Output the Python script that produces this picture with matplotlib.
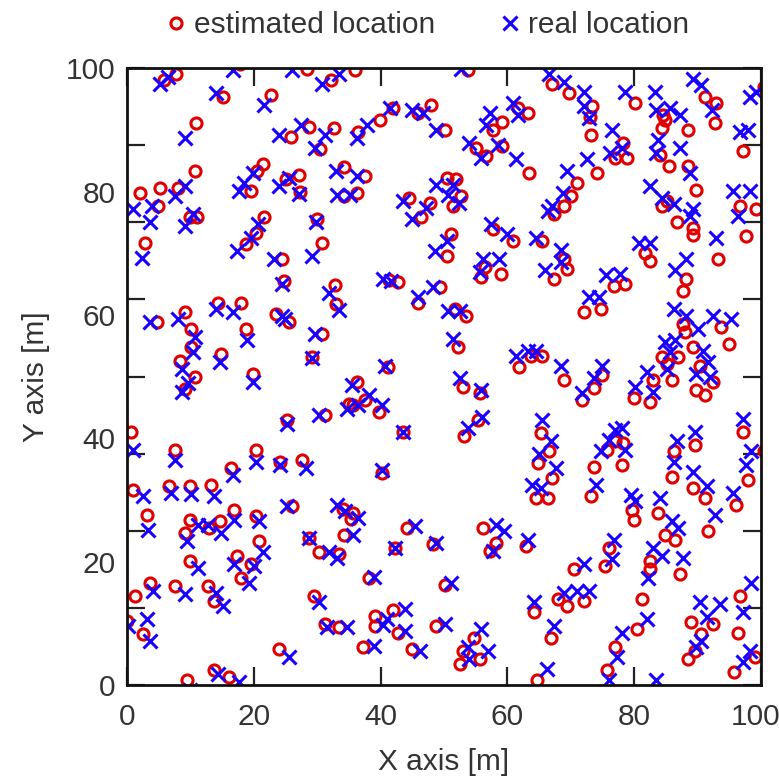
import numpy as np
import matplotlib.pyplot as plt
import matplotlib.transforms as mtransforms
from matplotlib.ticker import FixedLocator, NullFormatter

plt.rcParams['font.family'] = ['Liberation Sans', 'DejaVu Sans']

# estimated positions (red circles)
est_x = [7.8, 5.8, 17.8, 28.4, 32.1, 15.1, 22.7, 10.9, 25.8, 28.7, 32.6, 30.5, 34.2, 21.4, 19.5, 20.5,
         27.1, 25.0, 27.3, 2.0, 5.2, 4.9, 8.0, 10.7, 9.9, 11.0, 2.8, 21.6, 20.3, 18.8, 24.5, 30.0, 30.8,
         36.0, 53.8, 42.0, 39.9, 36.5, 45.9, 48.0, 50.1, 59.2, 57.7, 63.2, 61.6, 55.1, 56.6, 59.2, 63.4,
         37.6, 34.2, 36.3, 50.4, 51.9, 52.7, 51.4, 44.4, 47.8, 46.4, 57.7, 60.8, 65.5, 51.1, 50.4, 56.4,
         59.0, 55.8, 67.3,
         67.1, 69.7, 73.4, 73.0, 73.1, 80.1, 77.0, 78.8, 78.3, 74.1, 71.0, 70.0, 68.9, 67.3, 84.6, 84.3,
         88.5, 84.8, 85.4, 84.0, 88.5, 89.8, 91.1, 92.9, 92.7, 100.5, 101.0, 97.1, 101.0, 96.6, 99.2, 97.6,
         84.3, 86.7, 89.3, 89.3, 85.2, 93.2, 81.7, 82.5, 68.9, 69.4, 76.8, 78.6, 88.2, 87.7,
         72.0, 74.7, 87.7, 88.0, 89.3, 90.3, 93.7, 95.0, 84.3, 86.9, 85.9, 85.2, 89.8, 91.1, 92.4, 68.9,
         74.9, 73.6, 71.8, 79.9, 82.5, 83.0, 75.7, 78.3, 77.0, 73.6, 78.1, 86.2, 89.5, 85.9, 89.3, 97.1,
         97.9, 100.5, 65.3, 66.6, 64.8, 67.1, 64.5, 66.4,
         41.3, 42.8, 45.9, 49.3, 51.7, 53.5, 52.2, 61.9, 63.7, 65.5, 41.2, 53.0, 55.6, 36.3, 35.0, 35.7,
         37.5, 39.7, 43.6, 53.2, 55.3, 40.2,
         24.8, 32.8, 33.0, 4.7, 9.1, 10.1, 10.1, 8.3, 10.7, 9.2, 14.3, 18.0, 18.8, 14.8, 19.8, 23.5, 25.5,
         30.8, 29.2, 31.3, 25.3, 0.7, 7.5, 20.3, 24.2, 27.6, 16.4,
         1.0, 6.7, 9.9, 13.3, 3.1, 9.9, 9.1, 14.6, 13.0, 16.9, 20.3, 20.8, 9.9, 17.4, 19.5, 18.0, 3.6,
         7.5, 12.7, 13.8, 1.3, 0.0, 2.6, 24.0, 9.4, 13.8, 16.1, 26.1, 28.7, 30.3, 29.5, 31.3,
         34.0, 35.7, 35.3, 34.2, 33.5, 44.1, 42.3, 48.3, 38.1, 50.1, 56.1, 58.2, 57.2, 62.9, 64.2, 66.8,
         64.7, 33.4, 39.1, 39.1, 42.0, 42.8, 37.3, 44.9, 48.8, 54.8, 53.0, 55.6, 52.5,
         73.1, 91.1, 96.1, 91.7, 79.6, 79.9, 83.8, 84.8, 86.4, 76.0, 75.4, 70.5, 82.5, 82.5, 87.2, 81.2,
         80.4, 77.0, 75.7, 74.5, 82.5, 67.9, 69.4, 72.0, 89.0, 92.4, 90.6, 89.5, 88.5, 96.6, 96.3, 95.8,
         99.0]
est_y = [99.0, 98.0, 100.6, 99.9, 98.1, 95.4, 95.6, 91.1, 88.9, 90.5, 90.3, 86.9, 83.9, 84.4, 80.1, 83.3,
         82.7, 82.0, 79.9, 79.8, 80.6, 77.6, 80.6, 83.3, 75.8, 75.9, 71.7, 75.8, 73.3, 71.5, 69.0, 75.5, 71.7,
         99.7, 99.7, 93.5, 91.6, 89.7, 92.7, 94.0, 90.0, 91.3, 90.0, 92.7, 93.6, 87.0, 85.7, 87.3, 83.0,
         82.5, 79.2, 79.8, 82.2, 82.0, 79.2, 77.6, 79.0, 78.2, 75.8, 73.9, 72.0, 72.0, 73.1, 69.6, 67.7,
         66.6, 66.1, 65.8,
         97.5, 95.9, 93.8, 92.0, 89.2, 94.3, 85.4, 85.4, 87.9, 83.0, 81.4, 79.2, 77.6, 76.3, 92.4, 90.3,
         90.0, 91.6, 84.1, 86.0, 84.1, 80.3, 95.4, 94.3, 91.1, 97.0, 95.0, 86.5, 88.0, 77.6, 77.1, 72.8,
         77.6, 75.0, 74.1, 73.0, 78.4, 69.0, 70.1, 68.8, 69.0, 67.4, 64.7, 65.0, 65.8, 63.9,
         60.4, 61.0, 58.5, 57.2, 54.8, 51.8, 58.0, 55.3, 53.2, 53.2, 49.4, 52.0, 47.8, 47.0, 49.1, 49.4,
         50.2, 48.1, 46.2, 46.5, 45.9, 49.4, 38.1, 39.2, 39.5, 35.4, 35.7, 37.9, 38.9, 33.8, 31.9, 41.1,
         33.3, 38.0, 40.8, 38.0, 36.0, 33.5, 30.3, 30.3,
         65.6, 65.3, 62.0, 64.5, 61.0, 59.9, 54.8, 51.6, 53.4, 53.4, 51.6, 48.3, 47.3, 49.1, 45.6, 45.4,
         46.2, 44.3, 41.1, 40.3, 43.0, 34.4,
         65.5, 64.8, 61.8, 58.8, 60.4, 57.7, 54.8, 52.6, 50.0, 48.0, 62.0, 62.0, 57.7, 53.7, 50.5, 60.2, 58.8,
         56.9, 53.2, 43.8, 43.0, 41.1, 38.1, 38.1, 36.2, 36.5, 35.2,
         31.7, 32.2, 32.2, 32.5, 27.6, 26.8, 24.7, 26.6, 25.5, 28.4, 27.4, 23.3, 20.1, 20.9, 19.6, 17.4, 16.6,
         16.1, 16.1, 13.7, 14.5, 10.4, 8.3, 5.9, 0.8, 2.4, 1.3, 29.0, 23.9, 21.5, 14.5, 9.9,
         28.6, 27.9, 26.9, 24.4, 21.3, 25.5, 22.3, 22.8, 17.4, 16.3, 25.5, 23.1, 21.8, 22.5, 11.8, 7.7,
         0.8, 9.4, 11.2, 9.6, 12.1, 8.5, 6.1, 5.9, 9.6, 7.7, 5.6, 4.2, 3.4,
         30.6, 30.3, 29.2, 24.9, 28.4, 26.8, 27.9, 24.4, 23.6, 22.3, 19.3, 18.8, 20.1, 18.8, 18.0, 13.9,
         9.1, 6.1, 2.4, -1.0, -1.2, 13.9, 12.9, 13.7, 10.2, 9.9, 8.3, 5.6, 4.2, 14.5, 8.5, 2.1,
         4.5]

# real positions (blue crosses)
real_x = [6.5, 5.2, 16.7, 26.1, 30.8, 14.1, 21.6, 9.1, 24.0, 27.4, 31.3, 29.7, 32.9, 19.8, 17.7, 18.5,
          25.5, 24.0, 27.1, 1.0, 3.9, 3.6, 7.5, 9.1, 9.1, 10.4, 2.3, 20.6, 19.5, 17.4, 23.2, 29.8, 29.2,
          33.4, 52.7, 41.5, 37.8, 36.3, 44.9, 46.7, 48.8, 57.2, 56.6, 61.6, 60.8, 54.0, 55.8, 58.5, 61.3,
          36.3, 33.1, 35.2, 48.8, 51.4, 50.6, 52.4, 43.6, 47.2, 44.9, 57.4, 60.0, 64.5, 50.4, 48.5, 56.1,
          58.7, 55.6, 66.0,
          66.6, 68.9, 72.0, 72.0, 72.8, 78.6, 76.2, 78.1, 76.5, 72.6, 69.4, 68.7, 67.1, 66.4, 85.6, 83.5,
          87.2, 83.3, 83.8, 83.5, 87.2, 88.8, 89.3, 90.6, 92.2, 98.2, 99.2, 96.6, 98.0, 95.6, 98.2, 96.3,
          82.5, 86.2, 89.3, 88.8, 84.3, 92.9, 80.7, 82.5, 68.4, 68.4, 75.6, 77.8, 88.2, 86.4,
          72.8, 74.4, 86.2, 88.2, 90.1, 90.9, 92.4, 95.3, 84.8, 86.4, 85.1, 85.6, 89.8, 91.9, 91.7, 68.4,
          74.9, 73.6, 71.8, 80.1, 83.0, 82.0, 76.0, 78.1, 77.0, 74.7, 78.6, 86.7, 89.5, 86.2, 89.3, 97.1,
          97.6, 98.4, 65.5, 66.8, 65.0, 67.6, 63.9, 65.3,
          40.4, 41.7, 45.9, 48.3, 50.6, 52.5, 51.4, 61.3, 63.2, 64.5, 40.7, 52.5, 55.8, 35.5, 34.7, 36.5,
          38.1, 40.2, 43.6, 53.8, 56.0, 40.2,
          24.5, 31.8, 33.5, 3.6, 8.0, 10.7, 10.4, 8.6, 9.6, 8.6, 14.1, 16.7, 19.0, 14.6, 19.8, 24.5, 24.9,
          29.7, 29.2, 30.3, 25.3, 1.0, 7.5, 20.3, 24.2, 28.2, 16.7,
          2.6, 7.0, 10.1, 13.8, 3.3, 11.2, 9.4, 14.8, 12.7, 16.9, 20.8, 21.4, 11.2, 16.9, 20.1, 19.3, 4.1,
          9.1, 14.1, 15.1, 3.1, 0.2, 3.6, 25.5, 10.0, 14.3, 17.7, 25.3, 28.7, 31.8, 30.3, 31.6,
          33.1, 34.4, 36.5, 35.7, 33.1, 45.4, 42.3, 48.8, 38.9, 51.1, 58.2, 59.5, 57.7, 63.2, 64.2, 67.3,
          66.3, 34.7, 41.0, 40.3, 43.8, 43.8, 38.9, 46.2, 50.1, 55.9, 53.8, 56.9, 54.0,
          73.9, 91.4, 95.6, 92.7, 80.1, 79.5, 84.1, 85.9, 86.9, 76.8, 76.5, 72.0, 83.0, 84.3, 87.7, 82.2,
          82.0, 78.1, 77.3, 76.0, 83.5, 68.9, 71.0, 72.8, 90.3, 93.5, 91.4, 90.6, 89.8, 98.4, 97.1, 97.1,
          98.2]
real_y = [98.5, 97.5, 99.7, 99.7, 97.5, 95.9, 94.0, 88.7, 89.2, 90.8, 89.2, 87.0, 83.3, 83.0, 80.1, 81.4,
          82.2, 80.9, 79.6, 77.1, 77.6, 75.0, 79.2, 80.9, 74.4, 76.3, 69.3, 74.7, 72.4, 70.4, 69.0, 75.0, 69.6,
          99.1, 99.9, 93.5, 90.8, 88.7, 93.2, 92.7, 90.0, 92.7, 90.8, 92.4, 94.3, 87.9, 85.5, 87.6, 85.2,
          82.5, 79.5, 79.5, 81.1, 81.1, 79.5, 78.2, 78.4, 77.4, 75.5, 74.7, 73.1, 72.5, 72.0, 70.4, 69.0,
          69.0, 66.9, 67.3,
          99.1, 97.8, 96.2, 93.8, 91.9, 96.2, 86.2, 87.0, 90.0, 85.2, 83.3, 79.8, 77.6, 76.8, 93.5, 93.2,
          92.4, 96.2, 88.4, 86.2, 87.0, 83.0, 98.3, 97.3, 93.2, 95.4, 96.2, 89.7, 89.9, 80.1, 80.1, 76.0,
          80.9, 77.9, 77.1, 76.0, 79.0, 72.5, 71.7, 71.7, 70.6, 68.5, 66.5, 66.6, 69.0, 67.2,
          62.9, 62.9, 61.0, 59.9, 57.7, 54.2, 59.9, 59.4, 55.6, 55.9, 51.3, 54.0, 50.5, 50.0, 52.4, 51.8,
          51.8, 49.7, 47.3, 48.3, 47.5, 50.8, 39.7, 41.6, 41.3, 37.9, 38.1, 39.5, 41.1, 36.2, 34.6, 43.2,
          35.7, 37.9, 43.0, 39.5, 37.5, 35.2, 32.5, 31.9,
          65.8, 65.5, 62.9, 64.5, 60.7, 60.7, 56.1, 53.4, 54.2, 54.2, 51.8, 49.7, 47.8, 48.6, 44.8, 45.4,
          47.0, 45.4, 41.0, 41.6, 43.5, 34.9,
          65.0, 63.5, 60.8, 58.8, 59.4, 56.4, 54.0, 51.3, 48.9, 47.5, 61.0, 60.4, 55.9, 52.4, 49.1, 59.9, 59.3,
          56.9, 53.0, 43.8, 42.4, 38.1, 36.5, 36.2, 35.7, 35.2, 34.1,
          30.6, 31.1, 30.9, 30.6, 25.2, 26.0, 23.3, 24.7, 26.0, 26.8, 26.6, 21.5, 19.0, 19.6, 19.3, 16.6, 15.3,
          14.7, 15.0, 12.9, 10.7, 9.6, 7.2, 4.5, -0.8, 1.8, 0.5, 29.0, 23.9, 21.5, 13.4, 9.4,
          29.2, 28.2, 27.1, 24.4, 20.6, 25.8, 22.2, 23.0, 17.6, 16.6, 26.0, 24.9, 21.7, 23.6, 13.4, 9.6,
          2.6, 9.4, 10.7, 9.7, 12.3, 8.8, 6.4, 5.6, 9.9, 9.1, 6.1, 5.6, 4.2,
          32.5, 32.2, 31.1, 27.6, 29.8, 30.8, 30.3, 26.6, 25.5, 23.6, 20.4, 19.6, 22.3, 20.9, 20.6, 17.4,
          10.7, 8.5, 4.5, 0.8, 0.8, 15.0, 15.3, 15.3, 13.4, 13.1, 11.0, 7.2, 6.1, 16.6, 11.8, 3.7,
          5.6]

x_labels = [0, 20, 40, 60, 80, 100]
y_labels = [0, 20, 40, 60, 80, 100]

fig = plt.figure(figsize=(7.79, 7.83), dpi=100)
ax = fig.add_axes([0.163, 0.125, 0.814, 0.788])

ax.plot(est_x, est_y, 'o', color='#e00000', mfc='none', ms=8, mew=2.2,
        label='estimated location')
ax.plot(real_x, real_y, 'x', color='#1a00ff', ms=9.5, mew=2.2,
        label='real location')

ax.set_xlim(0, 100)
ax.set_ylim(0, 100)

fs = 21.5
ax.set_xticks(x_labels)
ax.set_xticklabels([str(v) for v in x_labels], fontsize=fs)
# tick marks on y every 12.5, labels every 20
ax.yaxis.remove_overlapping_locs = False
ax.yaxis.set_major_locator(FixedLocator(np.arange(0, 100.1, 12.5)))
ax.yaxis.set_major_formatter(NullFormatter())
ax.yaxis.set_minor_locator(FixedLocator(y_labels))
ax.set_yticklabels([str(v) for v in y_labels], minor=True, fontsize=fs)

ax.tick_params(axis='both', which='major', direction='in', length=13, width=1.6,
               top=True, right=True, colors='#222222')
ax.tick_params(axis='x', which='major', pad=13, labelcolor='#333333')
ax.tick_params(axis='y', which='minor', length=0, pad=8, labelcolor='#333333')
for s in ax.spines.values():
    s.set_linewidth(2.0)
    s.set_color('#111111')

# keep the last x label inside the canvas
last = ax.get_xticklabels()[-1]
last.set_transform(last.get_transform() +
                   mtransforms.ScaledTranslation(-6 / 100, 0, fig.dpi_scale_trans))

ax.set_xlabel('X axis [m]', fontsize=fs, color='#333333', labelpad=12)
ax.set_ylabel('Y axis [m]', fontsize=fs, color='#333333', labelpad=12)

fig.legend(loc='center', bbox_to_anchor=(0.55, 0.968), ncol=2, frameon=False,
           fontsize=fs, handlelength=0.6, handletextpad=0.3, columnspacing=2.2,
           labelcolor='#333333')

fig.savefig('out.png', dpi=100)
